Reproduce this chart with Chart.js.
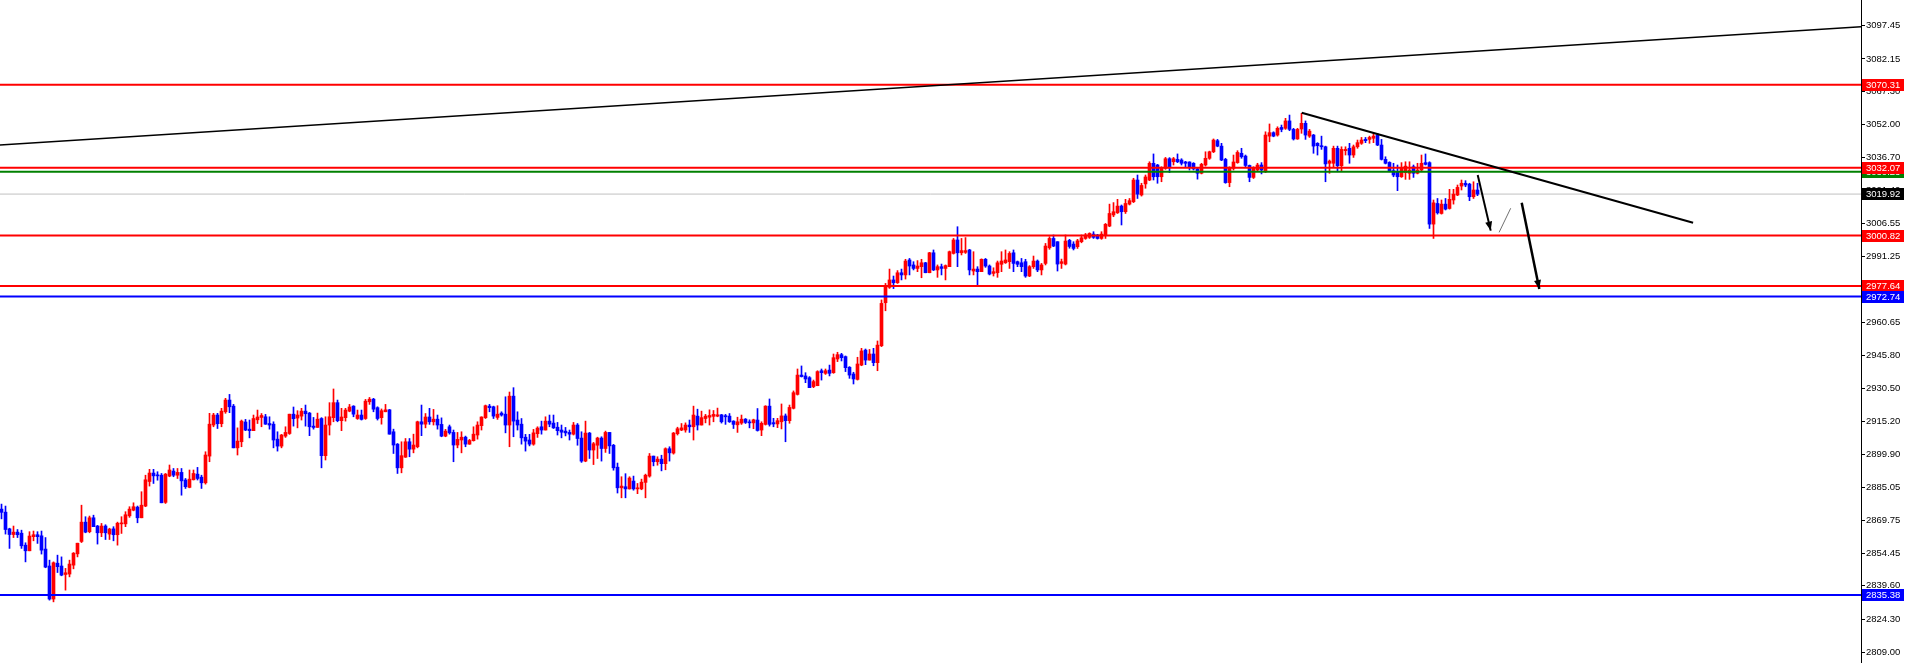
<!DOCTYPE html>
<html>
<head>
<meta charset="utf-8">
<script src="https://cdn.jsdelivr.net/npm/chart.js@4.4.1/dist/chart.umd.min.js"></script>
<style>
  html, body { margin: 0; padding: 0; background: #ffffff; }
  #wrap { width: 1905px; height: 663px; position: relative; }
</style>
</head>
<body>
<div id="wrap"><canvas id="chart"></canvas></div>
<script>
// candle data, one entry per bar, oldest first
const opens = [
  2874.9, 2873.5, 2865.8, 2863.2, 2864.3, 2863.8, 2858.3, 2855.7, 2862.2, 2863.1,
  2862.6, 2856.5, 2848.7, 2833.5, 2850.0, 2848.7, 2844.8, 2845.0, 2849.1, 2854.3,
  2860.0, 2868.9, 2864.5, 2870.9, 2867.1, 2864.0, 2867.1, 2863.4, 2865.8, 2863.1,
  2868.1, 2868.1, 2871.8, 2874.4, 2875.8, 2870.9, 2876.3, 2887.6, 2891.5, 2890.5,
  2890.5, 2878.0, 2890.1, 2892.4, 2890.5, 2891.8, 2888.3, 2884.9, 2888.4, 2891.0,
  2889.6, 2887.0, 2899.3, 2913.6, 2918.2, 2914.2, 2919.7, 2925.1, 2922.3, 2903.1,
  2905.9, 2915.0, 2911.7, 2911.0, 2916.0, 2917.1, 2917.4, 2914.3, 2914.0, 2907.1,
  2903.9, 2908.5, 2909.7, 2918.6, 2916.8, 2917.7, 2920.0, 2919.1, 2913.1, 2912.5,
  2916.6, 2899.5, 2913.6, 2917.0, 2923.9, 2915.6, 2917.0, 2920.0, 2922.3, 2916.6,
  2918.2, 2916.6, 2924.3, 2925.5, 2921.6, 2917.0, 2919.7, 2920.6, 2910.5, 2904.8,
  2893.9, 2898.8, 2905.9, 2902.5, 2903.6, 2915.1, 2914.0, 2917.3, 2915.1, 2916.3,
  2913.9, 2908.5, 2912.8, 2910.2, 2904.4, 2906.7, 2908.0, 2904.8, 2906.4, 2909.0,
  2913.3, 2917.0, 2922.3, 2922.0, 2917.1, 2919.1, 2918.6, 2913.6, 2926.9, 2915.9,
  2914.0, 2908.0, 2906.7, 2904.8, 2909.6, 2912.8, 2911.3, 2915.4, 2914.5, 2912.6,
  2911.3, 2910.8, 2910.2, 2909.4, 2913.6, 2907.6, 2897.0, 2909.9, 2902.1, 2904.3,
  2907.6, 2902.8, 2910.2, 2904.3, 2894.2, 2884.7, 2885.2, 2884.2, 2887.8, 2884.2,
  2884.2, 2887.2, 2890.1, 2899.3, 2896.7, 2897.9, 2895.8, 2902.7, 2900.7, 2909.6,
  2911.3, 2911.3, 2913.6, 2912.8, 2917.7, 2913.6, 2916.6, 2917.2, 2917.6, 2917.7,
  2918.3, 2917.9, 2917.7, 2915.4, 2913.7, 2914.5, 2916.3, 2915.0, 2914.6, 2915.9,
  2911.3, 2913.9, 2922.3, 2914.7, 2914.1, 2915.1, 2917.8, 2915.6, 2921.3, 2927.7,
  2936.6, 2936.2, 2935.4, 2931.3, 2931.7, 2938.6, 2937.4, 2938.9, 2937.7, 2944.0,
  2946.0, 2945.1, 2940.2, 2937.1, 2934.6, 2941.2, 2948.1, 2943.5, 2946.3, 2942.3,
  2950.1, 2969.9, 2977.0, 2980.4, 2979.1, 2983.7, 2982.7, 2989.6, 2987.3, 2985.7,
  2986.5, 2988.3, 2983.7, 2992.9, 2985.0, 2986.5, 2985.7, 2986.5, 2992.6, 2998.8,
  2992.9, 2993.1, 2994.2, 2984.5, 2985.4, 2984.2, 2989.9, 2986.8, 2983.4, 2983.7,
  2987.6, 2988.3, 2988.8, 2992.9, 2988.8, 2988.3, 2988.8, 2982.2, 2986.5, 2989.1,
  2985.0, 2988.0, 2995.2, 2999.5, 2998.0, 2988.0, 2987.7, 2998.6, 2996.9, 2995.7,
  2998.0, 2999.5, 3000.0, 3001.5, 3001.1, 2999.5, 3001.1, 3005.2, 3010.3, 3011.3,
  3014.4, 3011.8, 3015.3, 3016.4, 3026.4, 3019.5, 3024.6, 3026.4, 3034.1, 3033.3,
  3027.9, 3031.8, 3036.2, 3034.8, 3035.9, 3035.6, 3034.7, 3034.7, 3034.1, 3031.5,
  3029.5, 3033.3, 3036.4, 3039.4, 3044.5, 3042.0, 3035.9, 3025.2, 3031.8, 3034.4,
  3038.7, 3037.4, 3033.1, 3027.6, 3031.0, 3033.3, 3030.2, 3046.6, 3048.2, 3047.1,
  3050.6, 3050.2, 3053.6, 3049.7, 3045.3, 3049.9, 3052.5, 3046.6, 3047.1, 3043.3,
  3042.2, 3041.7, 3034.1, 3034.1, 3041.0, 3033.0, 3039.9, 3041.0, 3037.9, 3041.7,
  3043.3, 3045.1, 3045.1, 3045.6, 3047.1, 3042.5, 3035.9, 3034.5, 3030.7, 3030.2,
  3027.9, 3029.8, 3029.5, 3032.5, 3029.5, 3031.0, 3034.4, 3034.4, 3006.1, 3015.6,
  3011.0, 3015.3, 3013.3, 3017.2, 3019.5, 3023.6, 3024.9, 3024.5, 3018.7, 3021.8
];
const highs = [
  2877.2, 2876.3, 2866.1, 2867.1, 2865.5, 2865.2, 2859.4, 2864.5, 2864.8, 2864.5,
  2864.8, 2861.8, 2851.4, 2850.6, 2853.7, 2852.9, 2847.6, 2851.4, 2854.9, 2859.2,
  2876.7, 2871.4, 2871.7, 2872.1, 2867.4, 2868.3, 2867.7, 2866.1, 2866.8, 2868.9,
  2871.4, 2873.7, 2876.0, 2877.8, 2876.3, 2882.9, 2890.5, 2893.2, 2893.2, 2892.1,
  2891.3, 2891.3, 2895.2, 2893.6, 2893.6, 2893.6, 2889.0, 2892.9, 2892.9, 2894.1,
  2890.5, 2901.3, 2919.0, 2919.0, 2919.0, 2921.3, 2925.9, 2927.7, 2923.1, 2912.3,
  2915.9, 2916.2, 2915.9, 2918.2, 2920.5, 2918.9, 2918.5, 2917.4, 2915.1, 2910.5,
  2909.3, 2912.8, 2918.6, 2921.9, 2920.2, 2921.3, 2922.8, 2919.4, 2917.1, 2919.1,
  2917.0, 2917.4, 2923.9, 2930.2, 2925.1, 2921.3, 2921.3, 2923.1, 2922.5, 2920.5,
  2920.5, 2925.4, 2926.3, 2925.9, 2922.0, 2921.0, 2923.1, 2920.8, 2911.7, 2905.1,
  2905.9, 2907.4, 2907.4, 2909.4, 2915.4, 2922.8, 2918.9, 2921.3, 2920.8, 2918.2,
  2916.9, 2911.6, 2913.6, 2911.3, 2910.2, 2910.5, 2908.5, 2907.0, 2912.8, 2915.1,
  2917.4, 2922.8, 2923.1, 2922.3, 2922.5, 2919.7, 2926.6, 2928.8, 2930.8, 2919.7,
  2916.6, 2909.3, 2909.3, 2911.6, 2912.8, 2915.4, 2917.4, 2918.2, 2918.2, 2914.8,
  2913.6, 2912.5, 2911.3, 2914.8, 2914.3, 2910.5, 2915.4, 2910.2, 2905.6, 2908.0,
  2908.2, 2910.8, 2910.2, 2904.7, 2896.1, 2889.8, 2891.2, 2889.8, 2890.1, 2886.7,
  2888.7, 2891.0, 2900.5, 2899.3, 2899.0, 2899.7, 2903.1, 2903.6, 2910.2, 2912.6,
  2914.3, 2914.6, 2915.9, 2922.3, 2920.9, 2920.0, 2918.5, 2920.6, 2920.3, 2921.4,
  2918.5, 2918.5, 2918.9, 2915.6, 2917.2, 2918.2, 2916.6, 2916.0, 2916.3, 2921.2,
  2915.1, 2922.5, 2925.6, 2916.7, 2916.7, 2923.3, 2918.7, 2922.8, 2929.3, 2939.4,
  2940.8, 2937.7, 2935.9, 2934.3, 2938.6, 2939.4, 2939.4, 2941.2, 2946.3, 2947.1,
  2946.6, 2945.4, 2940.5, 2937.9, 2944.8, 2948.9, 2948.6, 2948.4, 2948.9, 2952.3,
  2971.2, 2978.8, 2985.4, 2982.2, 2984.7, 2985.4, 2989.9, 2990.3, 2988.8, 2989.3,
  2989.9, 2988.5, 2993.1, 2994.2, 2987.3, 2987.7, 2987.3, 2993.7, 2999.5, 3004.9,
  2999.5, 2999.9, 2994.5, 2993.4, 2986.5, 2990.1, 2990.3, 2987.3, 2986.0, 2989.1,
  2993.4, 2994.2, 2993.4, 2994.2, 2989.1, 2990.3, 2989.9, 2987.0, 2991.4, 2989.6,
  2988.0, 2997.2, 3000.3, 3001.1, 2998.0, 2990.0, 3001.1, 2999.1, 2998.0, 2999.1,
  3001.1, 3001.8, 3002.1, 3002.6, 3001.4, 3002.6, 3006.4, 3015.3, 3016.0, 3017.5,
  3014.9, 3017.5, 3017.9, 3027.2, 3028.7, 3024.9, 3028.7, 3034.8, 3038.4, 3033.6,
  3032.5, 3036.8, 3036.7, 3036.8, 3038.4, 3036.2, 3035.0, 3034.8, 3034.4, 3031.8,
  3034.1, 3039.4, 3039.7, 3045.3, 3045.1, 3043.3, 3036.4, 3032.5, 3037.9, 3039.9,
  3041.0, 3037.9, 3033.3, 3032.5, 3034.1, 3034.4, 3048.6, 3052.2, 3048.6, 3050.9,
  3051.7, 3054.8, 3056.3, 3050.2, 3050.2, 3057.1, 3053.6, 3049.7, 3047.4, 3043.6,
  3046.6, 3042.0, 3035.6, 3042.0, 3042.0, 3041.7, 3041.7, 3043.3, 3042.5, 3044.8,
  3046.0, 3046.0, 3046.6, 3047.9, 3047.9, 3045.1, 3037.1, 3034.8, 3034.1, 3033.3,
  3034.4, 3034.8, 3034.8, 3033.3, 3034.1, 3037.9, 3038.4, 3034.8, 3017.2, 3017.9,
  3017.2, 3017.9, 3022.1, 3022.1, 3024.1, 3026.4, 3026.1, 3024.9, 3025.6, 3024.9
];
const lows = [
  2870.4, 2863.4, 2856.8, 2861.8, 2861.8, 2856.8, 2850.6, 2855.7, 2860.3, 2859.1,
  2854.2, 2847.9, 2833.0, 2832.2, 2845.7, 2844.2, 2837.6, 2843.7, 2847.4, 2852.9,
  2859.5, 2864.0, 2864.0, 2866.8, 2858.8, 2862.2, 2860.9, 2860.9, 2860.3, 2858.3,
  2863.7, 2866.8, 2871.1, 2874.1, 2868.6, 2870.9, 2876.0, 2885.5, 2886.7, 2888.2,
  2877.8, 2877.5, 2889.8, 2889.8, 2889.0, 2881.3, 2884.4, 2884.7, 2888.3, 2888.3,
  2884.4, 2886.4, 2896.7, 2912.8, 2912.0, 2912.8, 2919.0, 2919.3, 2903.1, 2899.8,
  2903.6, 2911.0, 2907.7, 2911.0, 2914.3, 2912.8, 2913.9, 2911.7, 2903.1, 2901.6,
  2903.1, 2907.9, 2909.3, 2913.1, 2912.3, 2915.9, 2913.1, 2908.7, 2911.7, 2912.5,
  2893.9, 2897.5, 2909.0, 2915.1, 2915.1, 2911.0, 2915.4, 2919.7, 2917.4, 2916.2,
  2915.9, 2916.2, 2923.1, 2919.7, 2915.9, 2914.0, 2919.7, 2909.4, 2900.5, 2891.3,
  2891.6, 2898.7, 2899.0, 2900.8, 2903.1, 2908.7, 2912.3, 2913.9, 2913.6, 2911.7,
  2908.2, 2908.2, 2909.4, 2896.7, 2903.1, 2900.8, 2903.6, 2904.7, 2906.2, 2907.1,
  2911.3, 2916.6, 2919.7, 2916.6, 2916.2, 2917.7, 2910.0, 2903.6, 2908.2, 2911.3,
  2904.8, 2901.6, 2904.0, 2904.3, 2907.9, 2909.4, 2911.3, 2912.8, 2912.0, 2909.0,
  2907.7, 2908.6, 2906.7, 2909.0, 2904.3, 2896.4, 2896.7, 2898.2, 2895.4, 2898.2,
  2897.0, 2901.0, 2900.5, 2892.8, 2882.3, 2880.1, 2880.1, 2884.1, 2883.6, 2882.0,
  2883.8, 2880.1, 2889.6, 2894.8, 2895.1, 2892.5, 2893.0, 2897.0, 2900.2, 2909.0,
  2911.0, 2910.3, 2910.2, 2906.7, 2911.3, 2913.6, 2914.6, 2913.6, 2915.1, 2917.4,
  2914.5, 2913.9, 2914.8, 2912.0, 2910.2, 2913.9, 2914.3, 2912.3, 2911.9, 2910.8,
  2908.7, 2913.6, 2913.1, 2912.8, 2912.4, 2911.8, 2905.9, 2914.4, 2921.0, 2927.4,
  2935.7, 2933.1, 2930.8, 2930.8, 2931.7, 2934.3, 2936.9, 2936.2, 2937.4, 2942.8,
  2943.1, 2938.2, 2935.1, 2932.5, 2934.3, 2940.9, 2941.4, 2943.5, 2940.9, 2938.6,
  2949.7, 2966.2, 2976.5, 2976.4, 2978.8, 2980.4, 2980.8, 2982.7, 2985.0, 2984.2,
  2981.4, 2983.7, 2983.7, 2984.7, 2981.6, 2982.7, 2980.4, 2986.5, 2992.3, 2986.5,
  2991.9, 2992.6, 2982.7, 2982.7, 2977.6, 2984.2, 2986.2, 2982.7, 2982.2, 2981.6,
  2984.2, 2988.0, 2985.7, 2984.2, 2986.5, 2984.2, 2981.6, 2981.9, 2985.7, 2984.2,
  2982.7, 2987.3, 2994.5, 2995.7, 2984.5, 2985.7, 2987.3, 2995.0, 2994.2, 2994.9,
  2997.5, 2999.1, 2999.5, 2999.5, 2999.2, 2999.1, 2999.5, 3004.9, 3009.5, 3011.0,
  3005.7, 3011.0, 3014.9, 3016.0, 3017.9, 3019.0, 3022.6, 3026.1, 3026.4, 3024.9,
  3025.6, 3031.3, 3029.8, 3033.3, 3034.4, 3033.3, 3032.5, 3031.0, 3031.0, 3026.8,
  3029.2, 3032.8, 3035.9, 3039.0, 3041.7, 3035.3, 3024.9, 3023.3, 3031.0, 3034.1,
  3036.4, 3032.5, 3025.6, 3027.1, 3030.7, 3029.2, 3029.8, 3044.0, 3046.3, 3046.6,
  3048.6, 3049.7, 3049.1, 3044.8, 3045.1, 3047.9, 3045.1, 3046.0, 3038.7, 3037.9,
  3040.5, 3025.6, 3029.5, 3032.5, 3030.2, 3030.7, 3037.9, 3034.1, 3036.8, 3041.0,
  3042.8, 3043.6, 3043.3, 3043.6, 3042.2, 3035.6, 3033.8, 3030.2, 3027.9, 3021.5,
  3027.6, 3026.7, 3026.7, 3027.6, 3029.2, 3030.2, 3033.3, 3004.1, 2999.5, 3010.7,
  3010.7, 3012.6, 3013.0, 3015.3, 3019.2, 3021.8, 3023.3, 3016.9, 3017.9, 3019.2
];
const closes = [
  2873.4, 2865.5, 2863.2, 2864.3, 2863.1, 2858.0, 2855.7, 2862.5, 2863.1, 2862.2,
  2856.0, 2848.2, 2833.5, 2850.2, 2848.4, 2844.5, 2845.6, 2849.6, 2854.6, 2859.2,
  2868.9, 2864.3, 2870.9, 2866.8, 2864.0, 2867.1, 2864.0, 2865.7, 2863.1, 2868.4,
  2868.4, 2872.3, 2874.9, 2876.0, 2870.9, 2876.7, 2888.4, 2891.5, 2890.2, 2890.2,
  2877.8, 2891.0, 2892.9, 2890.5, 2891.8, 2887.9, 2885.2, 2888.7, 2891.3, 2889.0,
  2887.0, 2899.8, 2914.0, 2918.2, 2914.2, 2920.0, 2925.1, 2922.0, 2903.1, 2906.2,
  2915.4, 2911.3, 2911.0, 2916.6, 2917.3, 2918.0, 2914.0, 2913.6, 2906.7, 2903.9,
  2909.0, 2910.2, 2918.6, 2916.5, 2918.2, 2920.0, 2918.8, 2912.8, 2912.5, 2916.3,
  2899.5, 2913.6, 2917.4, 2923.9, 2915.6, 2917.3, 2920.5, 2921.9, 2918.6, 2918.2,
  2916.2, 2924.6, 2925.5, 2920.9, 2916.6, 2920.2, 2920.6, 2909.4, 2904.4, 2893.9,
  2899.5, 2905.9, 2902.5, 2904.4, 2915.1, 2914.0, 2917.3, 2915.1, 2916.3, 2913.6,
  2908.5, 2910.8, 2910.0, 2904.4, 2907.0, 2908.0, 2904.8, 2906.5, 2909.4, 2913.6,
  2917.3, 2922.5, 2921.6, 2917.7, 2918.6, 2918.2, 2913.6, 2926.9, 2915.4, 2913.6,
  2907.7, 2906.2, 2904.8, 2910.0, 2912.2, 2911.3, 2915.4, 2914.0, 2912.3, 2911.0,
  2910.3, 2910.0, 2909.4, 2913.6, 2907.4, 2897.0, 2909.9, 2902.1, 2905.0, 2907.6,
  2902.8, 2910.2, 2904.0, 2893.9, 2884.7, 2885.5, 2884.2, 2889.2, 2884.2, 2884.7,
  2887.3, 2890.5, 2899.3, 2896.7, 2897.9, 2895.8, 2902.7, 2900.8, 2909.9, 2911.9,
  2912.3, 2913.6, 2912.8, 2918.2, 2913.6, 2917.0, 2917.7, 2918.0, 2918.5, 2918.3,
  2915.1, 2917.4, 2915.1, 2913.9, 2915.1, 2916.3, 2914.8, 2914.6, 2916.0, 2911.1,
  2914.4, 2922.3, 2913.9, 2914.1, 2915.6, 2917.8, 2915.6, 2921.7, 2928.5, 2936.6,
  2935.9, 2934.8, 2930.8, 2933.6, 2938.2, 2937.7, 2938.6, 2937.4, 2944.6, 2946.0,
  2944.6, 2940.0, 2936.6, 2934.8, 2941.7, 2947.7, 2943.5, 2946.3, 2942.3, 2950.4,
  2969.6, 2977.6, 2980.4, 2979.1, 2983.7, 2982.7, 2989.1, 2986.8, 2985.7, 2986.8,
  2988.3, 2983.7, 2992.9, 2985.0, 2986.5, 2985.7, 2987.0, 2993.4, 2998.8, 2992.9,
  2993.9, 2993.9, 2985.0, 2985.4, 2984.2, 2989.9, 2986.8, 2983.1, 2984.2, 2988.3,
  2989.1, 2989.6, 2992.6, 2988.0, 2987.6, 2986.5, 2982.2, 2986.5, 2989.1, 2985.0,
  2987.3, 2996.0, 2999.5, 2996.0, 2987.7, 2988.8, 2998.3, 2995.8, 2994.9, 2998.4,
  2999.8, 3001.1, 3001.8, 3000.0, 2999.5, 3001.5, 3006.0, 3011.0, 3011.8, 3014.4,
  3011.8, 3015.6, 3016.9, 3026.4, 3019.9, 3023.9, 3027.8, 3034.1, 3027.9, 3027.9,
  3031.8, 3036.2, 3032.5, 3036.2, 3034.8, 3034.1, 3034.1, 3032.1, 3031.5, 3029.5,
  3033.6, 3036.4, 3039.4, 3044.8, 3042.0, 3035.6, 3025.2, 3031.8, 3034.7, 3039.1,
  3037.1, 3033.1, 3027.6, 3031.8, 3033.3, 3031.0, 3047.1, 3048.2, 3046.6, 3050.2,
  3049.7, 3053.6, 3049.7, 3045.3, 3049.7, 3052.5, 3047.1, 3048.9, 3042.0, 3042.2,
  3041.7, 3033.8, 3035.1, 3041.0, 3033.0, 3040.5, 3040.5, 3037.9, 3041.7, 3043.6,
  3044.8, 3044.5, 3046.0, 3046.6, 3042.5, 3035.9, 3034.1, 3030.5, 3028.7, 3027.9,
  3031.8, 3032.8, 3031.0, 3029.5, 3031.0, 3034.1, 3033.6, 3006.1, 3015.9, 3011.3,
  3015.3, 3013.0, 3017.5, 3019.9, 3023.0, 3024.9, 3024.1, 3018.7, 3021.8, 3019.9
];

// horizontal levels
const redLevels = [3070.31, 3032.07, 3000.82, 2977.64];
const greenLevels = [3030.23];
const blueLevels = [2972.74, 2835.38];
const bidPrice = 3019.92;

// price scale labels on the right
const axisTicks = [3097.45, 3082.15, 3067.30, 3052.00, 3036.70, 3021.40, 3006.55, 2991.25,
  2975.95, 2960.65, 2945.80, 2930.50, 2915.20, 2899.90, 2885.05, 2869.75, 2854.45,
  2839.60, 2824.30, 2809.00];

// drawn objects: [bar index, price]
const trendLong = [[-0.4, 3042.5], [465, 3097.0]];
const trendDown = [[325.05, 3057.4], [422.9, 3006.7]];
const arrowFirst = [[369.05, 3028.7], [372.3, 3003.1]];
const arrowBack = [[374.4, 3002.3], [377.3, 3013.4]];
const arrowSecond = [[380.05, 3015.9], [384.45, 2976.2]];

const xMin = -0.375, xMax = 464.875;
const yMin = 2804.05, yMax = 3109.27;

const UP = '#ff0000', DOWN = '#0000ff';
const barColors = opens.map((o, i) => closes[i] >= o ? UP : DOWN);
const axisFont = '"Liberation Sans", Arial, sans-serif';

function hLine(price, color, width, order) {
  return {
    type: 'line',
    data: [{ x: xMin - 1, y: price }, { x: xMax + 1, y: price }],
    borderColor: color, borderWidth: width,
    pointRadius: 0, order: order
  };
}
function segment(pts, color, width) {
  return {
    type: 'line',
    data: pts.map(p => ({ x: p[0], y: p[1] })),
    borderColor: color, borderWidth: width,
    pointRadius: 0, order: 0
  };
}

// arrow heads at the end of the arrow segments
const arrowHeads = {
  id: 'arrowHeads',
  afterDatasetsDraw(chart) {
    const { ctx, scales: { x, y } } = chart;
    [arrowFirst, arrowSecond].forEach(a => {
      const x1 = x.getPixelForValue(a[0][0]), y1 = y.getPixelForValue(a[0][1]);
      const x2 = x.getPixelForValue(a[1][0]), y2 = y.getPixelForValue(a[1][1]);
      const ang = Math.atan2(y2 - y1, x2 - x1);
      const len = 9, half = 3.5;
      ctx.save();
      ctx.fillStyle = '#000';
      ctx.beginPath();
      ctx.moveTo(x2, y2);
      ctx.lineTo(x2 - len * Math.cos(ang) + half * Math.sin(ang), y2 - len * Math.sin(ang) - half * Math.cos(ang));
      ctx.lineTo(x2 - len * Math.cos(ang) - half * Math.sin(ang), y2 - len * Math.sin(ang) + half * Math.cos(ang));
      ctx.closePath();
      ctx.fill();
      ctx.restore();
    });
  }
};

// coloured price tags on the right axis
const priceTags = {
  id: 'priceTags',
  afterDraw(chart) {
    const { ctx, chartArea, scales: { y } } = chart;
    const tags = [];
    greenLevels.forEach(p => tags.push([p, '#008000']));
    redLevels.forEach(p => tags.push([p, '#ff0000']));
    blueLevels.forEach(p => tags.push([p, '#0000ff']));
    tags.push([bidPrice, '#000000']);
    ctx.save();
    ctx.font = '9.5px ' + axisFont;
    ctx.textBaseline = 'middle';
    tags.forEach(([p, c]) => {
      const py = Math.round(y.getPixelForValue(p));
      ctx.fillStyle = c;
      ctx.fillRect(chartArea.right + 1, py - 6, 42, 12);
      ctx.fillStyle = '#ffffff';
      ctx.fillText(p.toFixed(2), chartArea.right + 5, py + 0.5);
    });
    ctx.restore();
  }
};

const datasets = [
  {
    type: 'bar',
    data: highs.map((h, i) => ({ x: i, y: [lows[i], h] })),
    backgroundColor: barColors,
    barThickness: 1, grouped: false, order: 4
  },
  {
    type: 'bar',
    data: opens.map((o, i) => ({ x: i, y: [o, closes[i]] })),
    backgroundColor: barColors,
    barThickness: 3, minBarLength: 1, grouped: false, order: 3
  },
  hLine(bidPrice, '#c0c0c0', 1, 5)
];
greenLevels.forEach(p => datasets.push(hLine(p, '#008000', 2, 1)));
redLevels.forEach(p => datasets.push(hLine(p, '#ff0000', 2, 1)));
blueLevels.forEach(p => datasets.push(hLine(p, '#0000ff', 2, 1)));
datasets.push(segment(trendLong, '#000000', 1.6));
datasets.push(segment(trendDown, '#000000', 2));
datasets.push(segment(arrowFirst, '#000000', 2));
datasets.push(segment(arrowBack, '#707070', 1));
datasets.push(segment(arrowSecond, '#000000', 2.5));

new Chart(document.getElementById('chart'), {
  type: 'bar',
  data: { datasets: datasets },
  options: {
    responsive: true,
    maintainAspectRatio: false,
    animation: false,
    layout: { padding: 0 },
    plugins: { legend: { display: false }, tooltip: { enabled: false } },
    scales: {
      x: {
        type: 'linear', min: xMin, max: xMax, offset: false,
        display: false
      },
      y: {
        position: 'right', min: yMin, max: yMax,
        afterBuildTicks: s => { s.ticks = axisTicks.map(v => ({ value: v })); },
        afterFit: s => { s.width = 44; s.paddingTop = 0; s.paddingBottom = 0; },
        grid: { drawOnChartArea: false, drawTicks: true, tickLength: 4, color: '#000' },
        border: { display: true, color: '#000', width: 1 },
        ticks: {
          autoSkip: false, padding: 1, color: '#000',
          font: { family: axisFont, size: 9.5 },
          callback: v => Number(v).toFixed(2)
        }
      }
    }
  },
  plugins: [arrowHeads, priceTags]
});
</script>
</body>
</html>
